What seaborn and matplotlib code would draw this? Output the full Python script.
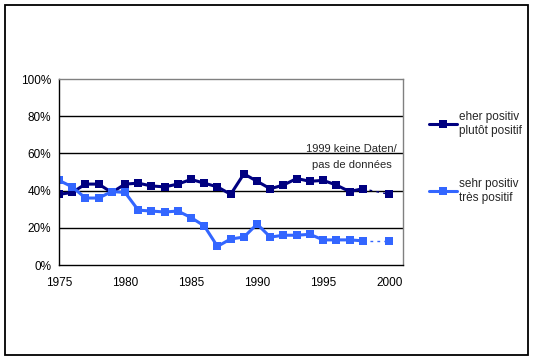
import numpy as np
import pandas as pd
import seaborn as sns
import matplotlib.pyplot as plt
from matplotlib.patches import Rectangle

years = [1975, 1976, 1977, 1978, 1979, 1980, 1981, 1982, 1983, 1984, 1985, 1986,
         1987, 1988, 1989, 1990, 1991, 1992, 1993, 1994, 1995, 1996, 1997, 1998,
         1999, 2000]
eher_positiv = [38, 39, 43.5, 43.5, 39, 43.5, 44, 42.5, 42, 43.5, 46, 44,
                42, 38, 49, 45, 41, 43, 46.5, 45, 45.5, 43, 39.5, 41,
                np.nan, 38]
sehr_positiv = [45.5, 42, 36, 36, 39.5, 39, 29.5, 29, 28.5, 29, 25.5, 21,
                10, 14, 15, 22, 15, 16, 16, 16.5, 13.5, 13.5, 13.5, 13,
                np.nan, 13]
series_labels = ["eher positiv\nplutôt positif", "sehr positiv\ntrès positif"]
colors = ["#000080", "#3366ff"]
y_ticks = [0, 20, 40, 60, 80, 100]
x_ticks = [1975, 1980, 1985, 1990, 1995, 2000]
note = "1999 keine Daten/\npas de données"

sns.set_style("white")
plt.rcParams["font.family"] = ["Liberation Sans", "DejaVu Sans"]

df = pd.DataFrame({"year": years * 2,
                   "value": eher_positiv + sehr_positiv,
                   "series": [series_labels[0]] * len(years) + [series_labels[1]] * len(years)})

fig = plt.figure(figsize=(5.35, 3.61), dpi=100)
ax = fig.add_axes([59 / 535, 1 - 265 / 361, (403 - 59) / 535, (265 - 79) / 361])

# outer frame
fig.patches.append(Rectangle((5 / 535, 1 - 355 / 361), 523 / 535, 350 / 361,
                             transform=fig.transFigure, fill=False,
                             edgecolor="black", linewidth=1.3))

for lab, col in zip(series_labels, colors):
    sub = df[df["series"] == lab]
    before = sub[sub["year"] < 1999]
    after = sub[sub["year"] > 1999]
    # dotted bridge across the missing year
    bridge = pd.concat([before.tail(1), after.head(1)])
    ax.plot(bridge["year"], bridge["value"], color=col,
            linestyle=(0, (2, 3)), linewidth=1)
    sns.lineplot(data=before, x="year", y="value", ax=ax, color=col,
                 marker="s", markersize=5.5, markeredgewidth=0,
                 linewidth=2.2, label=lab)
    sns.lineplot(data=after, x="year", y="value", ax=ax, color=col,
                 marker="s", markersize=5.5, markeredgewidth=0,
                 linewidth=2.2, legend=False)

for y in y_ticks[1:-1]:
    ax.axhline(y, color="black", linewidth=1, zorder=0)

ax.set_xlim(1975, 2001.05)
ax.set_ylim(0, 100)
ax.set_xticks(x_ticks)
ax.set_yticks(y_ticks)
ax.set_yticklabels([f"{t}%" for t in y_ticks])
ax.set_xlabel("")
ax.set_ylabel("")
ax.tick_params(axis="both", direction="inout", length=5, width=1,
               labelsize=8.5, colors="black", pad=3)
ax.tick_params(axis="x", pad=6)
for side in ["left", "bottom"]:
    ax.spines[side].set_color("black")
    ax.spines[side].set_linewidth(1)
for side in ["top", "right"]:
    ax.spines[side].set_color("#808080")
    ax.spines[side].set_linewidth(1)

ax.text(2000.6, 65, note, ha="right", va="top", multialignment="center",
        fontsize=8, linespacing=1.8)

leg = ax.legend(loc="upper left", bbox_to_anchor=(1.045, 0.884), frameon=False,
                fontsize=8.5, handlelength=2.4, handletextpad=0.1,
                labelspacing=3.45)

fig.savefig("out.png", dpi=100)
